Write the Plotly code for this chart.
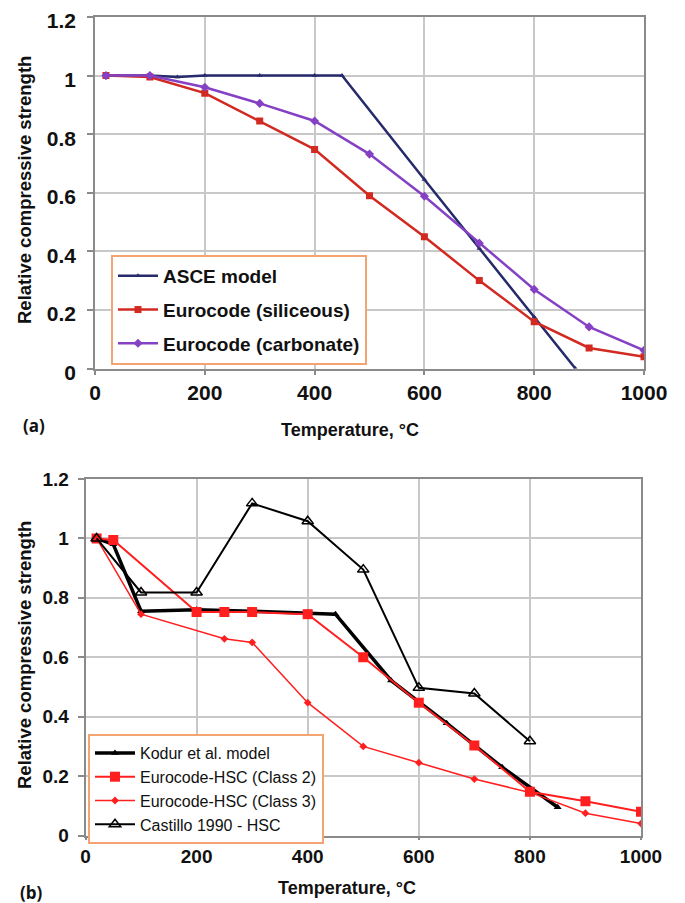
import plotly.graph_objects as go

# ---------------- Data: chart (a) ----------------
asce_T = [20, 100, 150, 200, 300, 400, 450, 600, 700, 800, 875]
asce_f = [1.0, 1.0, 0.995, 1.0, 1.0, 1.0, 1.0, 0.645, 0.41, 0.176, 0.0]

sil_T = [20, 100, 200, 300, 400, 500, 600, 700, 800, 900, 1000]
sil_f = [1.0, 0.995, 0.94, 0.845, 0.748, 0.59, 0.45, 0.30, 0.16, 0.07, 0.04]

carb_T = [20, 100, 200, 300, 400, 500, 600, 700, 800, 900, 1000]
carb_f = [1.0, 1.0, 0.96, 0.905, 0.845, 0.732, 0.588, 0.428, 0.27, 0.142, 0.062]

# ---------------- Data: chart (b) ----------------
kodur_T = [20, 50, 100, 200, 300, 400, 450, 550, 600, 650, 750, 850]
kodur_f = [1.0, 0.98, 0.755, 0.76, 0.755, 0.75, 0.745, 0.522, 0.45, 0.378, 0.23, 0.095]

hsc2_T = [20, 50, 200, 250, 300, 400, 500, 600, 700, 800, 900, 1000]
hsc2_f = [1.0, 0.995, 0.752, 0.752, 0.752, 0.745, 0.60, 0.447, 0.303, 0.147, 0.115, 0.08]

hsc3_T = [20, 100, 250, 300, 400, 500, 600, 700, 800, 900, 1000]
hsc3_f = [1.0, 0.745, 0.662, 0.65, 0.447, 0.30, 0.245, 0.19, 0.145, 0.075, 0.04]

cast_T = [20, 100, 200, 300, 400, 500, 600, 700, 800]
cast_f = [1.0, 0.818, 0.818, 1.118, 1.058, 0.895, 0.497, 0.478, 0.317]

x_ticks = [0, 200, 400, 600, 800, 1000]
y_ticks = [0, 0.2, 0.4, 0.6, 0.8, 1.0, 1.2]
y_ticktext = ["0", "0.2", "0.4", "0.6", "0.8", "1", "1.2"]

# page body has an 8px default margin; size the figure so it fits the window
OFF = 8
W, H = 685 - OFF, 903 - OFF
FONT = "Liberation Sans, Arial, sans-serif"

fig = go.Figure()

# chart (a)
fig.add_trace(go.Scatter(x=asce_T, y=asce_f, name="ASCE model", mode="lines+markers",
                         line=dict(color="#272a6b", width=2.5),
                         marker=dict(symbol="triangle-up", size=5, color="#272a6b"),
                         xaxis="x", yaxis="y", legend="legend", legendgroup="a1"))
fig.add_trace(go.Scatter(x=sil_T, y=sil_f, name="Eurocode (siliceous)", mode="lines+markers",
                         line=dict(color="#d22a20", width=2.5),
                         marker=dict(symbol="square", size=7, color="#d22a20"),
                         xaxis="x", yaxis="y", legend="legend", legendgroup="a2"))
fig.add_trace(go.Scatter(x=carb_T, y=carb_f, name="Eurocode (carbonate)", mode="lines+markers",
                         line=dict(color="#8441c4", width=2.5),
                         marker=dict(symbol="diamond", size=7, color="#8441c4"),
                         xaxis="x", yaxis="y", legend="legend", legendgroup="a3"))

# chart (b)
fig.add_trace(go.Scatter(x=kodur_T, y=kodur_f, name="Kodur et al. model", mode="lines+markers",
                         line=dict(color="#000000", width=3.5),
                         marker=dict(symbol="triangle-up", size=7, color="#000000"),
                         xaxis="x2", yaxis="y2", legend="legend2"))
fig.add_trace(go.Scatter(x=hsc2_T, y=hsc2_f, name="Eurocode-HSC (Class 2)", mode="lines+markers",
                         line=dict(color="#ff1f1f", width=2),
                         marker=dict(symbol="square", size=10, color="#ff1f1f"),
                         xaxis="x2", yaxis="y2", legend="legend2"))
fig.add_trace(go.Scatter(x=hsc3_T, y=hsc3_f, name="Eurocode-HSC (Class 3)", mode="lines+markers",
                         line=dict(color="#ff1f1f", width=1.5),
                         marker=dict(symbol="diamond", size=6, color="#ff1f1f"),
                         xaxis="x2", yaxis="y2", legend="legend2"))
fig.add_trace(go.Scatter(x=cast_T, y=cast_f, name="Castillo 1990 - HSC", mode="lines+markers",
                         line=dict(color="#000000", width=2),
                         marker=dict(symbol="triangle-up-open", size=10, color="#000000",
                                     line=dict(width=1.5, color="#000000")),
                         xaxis="x2", yaxis="y2", legend="legend2"))

def px_x(p):
    return (p - OFF) / W

def px_y(p):
    return 1 - (p - OFF) / H

grid = "#c8c8c8"
axcol = "#8a8a8a"

def xaxis(dom, anchor, size, tl):
    return dict(domain=dom, anchor=anchor, range=[0, 1000], tickvals=x_ticks,
                showgrid=True, gridcolor=grid, gridwidth=1.5,
                showline=True, mirror=True, linecolor=axcol, linewidth=1.5,
                ticks="outside", ticklen=tl, tickcolor=axcol, tickwidth=1.5,
                ticklabeloverflow="allow",
                tickfont=dict(family=FONT, size=size, color="#111", weight="bold"),
                zeroline=False, automargin=False, fixedrange=True)

def yaxis(dom, anchor, size, so, shift):
    return dict(domain=dom, anchor=anchor, range=[0, 1.2], tickvals=y_ticks,
                ticktext=y_ticktext,
                showgrid=True, gridcolor=grid, gridwidth=1.5,
                showline=True, mirror=True, linecolor=axcol, linewidth=1.5,
                ticks="outside", ticklen=6, tickcolor=axcol, tickwidth=1.5,
                ticklabelstandoff=so, ticklabelshift=shift, ticklabeloverflow="allow",
                tickfont=dict(family=FONT, size=size, color="#111", weight="bold"),
                zeroline=False, automargin=False, fixedrange=True)

fig.update_layout(
    width=W, height=H,
    margin=dict(l=0, r=0, t=0, b=0),
    paper_bgcolor="white", plot_bgcolor="white",
    font=dict(family=FONT, color="#111"),
    xaxis=xaxis([px_x(95), px_x(644)], "y", 21, 5),
    yaxis=yaxis([px_y(368.5), px_y(17)], "x", 21, 7, 4),
    xaxis2=xaxis([px_x(85.5), px_x(641)], "y2", 19, 3),
    yaxis2=yaxis([px_y(835.5), px_y(479)], "x2", 19, 5, 0),
    legend=dict(x=px_x(111), y=px_y(255), xanchor="left", yanchor="top",
                bgcolor="white", bordercolor="#f4a470", borderwidth=2,
                font=dict(family=FONT, size=19, color="#111", weight="bold"),
                tracegroupgap=6, itemwidth=40),
    legend2=dict(x=px_x(88), y=px_y(734), xanchor="left", yanchor="top",
                 bgcolor="white", bordercolor="#f4a470", borderwidth=2,
                 font=dict(family=FONT, size=16, color="#111"),
                 tracegroupgap=0, itemwidth=40),
    showlegend=True,
)

def label(text, xp, yp, size, angle=0, family=FONT):
    return dict(text=text, x=px_x(xp), y=px_y(yp), xref="paper", yref="paper",
                xanchor="center", yanchor="middle", showarrow=False,
                textangle=angle, font=dict(family=family, size=size, color="#111"))

ann = [
    label("<b>Relative compressive strength</b>", 24, 190, 18.5, -90),
    label("<b>Relative compressive strength</b>", 24, 655, 18.5, -90),
    label("<b>Temperature, °C</b>", 350, 430, 18),
    label("<b>Temperature, °C</b>", 347, 888, 18),
    label("<b>(a)</b>", 34, 425, 17, family="Open Sans, sans-serif"),
    label("<b>(b)</b>", 31, 892, 17, family="Open Sans, sans-serif"),
]
fig.update_layout(annotations=ann)

fig.write_html("out.html")
